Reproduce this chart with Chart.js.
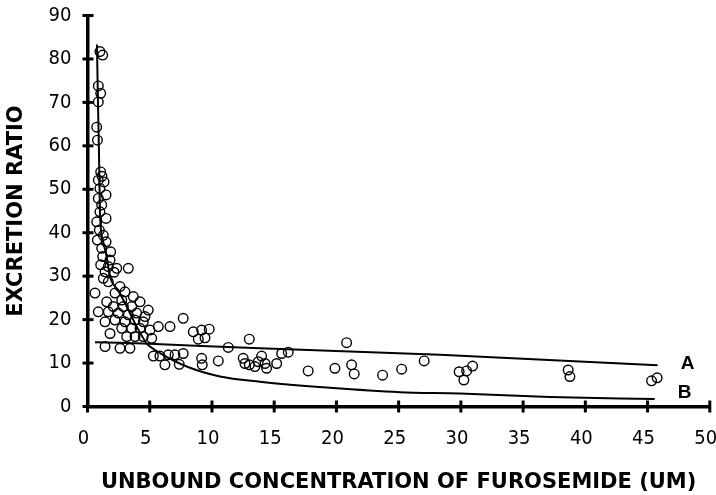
<!DOCTYPE html>
<html>
<head>
<meta charset="utf-8">
<script src="https://cdn.jsdelivr.net/npm/chart.js@4/dist/chart.umd.min.js"></script>
<style>
  html, body { margin: 0; padding: 0; background: #fff; }
  canvas { display: block; }
</style>
</head>
<body>
<canvas id="chart" width="716" height="495"></canvas>
<script>
    // observed excretion ratio vs unbound concentration
    const obsX = [1.00, 1.22, 0.87, 1.06, 0.87, 0.74, 0.80, 1.06, 1.16, 0.87,
        1.33, 1.00, 1.49, 0.87, 1.14, 1.00, 1.49, 0.74, 0.95, 1.27,
        0.79, 1.49, 1.14, 1.86, 1.22, 1.81, 1.06, 1.67, 2.35, 3.28,
        1.41, 1.27, 2.13, 1.67, 0.60, 2.61, 3.01, 2.21, 1.54, 2.75,
        3.68, 4.22, 2.07, 2.88, 3.55, 4.88, 0.87, 1.67, 2.47, 3.28,
        3.95, 4.62, 1.41, 2.21, 3.01, 3.82, 4.48, 2.75, 3.55, 4.22,
        5.02, 5.69, 6.63, 1.81, 3.15, 3.82, 4.48, 5.16, 1.41, 2.61,
        3.41, 7.69, 8.50, 9.17, 9.78, 8.90, 9.44, 13.00, 11.31, 5.29,
        5.82, 6.49, 7.03, 7.69, 6.22, 7.37, 9.17, 9.22, 10.51, 12.51,
        12.65, 13.00, 13.45, 13.99, 14.26, 13.72, 14.39, 15.20, 15.60, 16.13,
        20.82, 17.73, 19.88, 21.22, 21.43, 23.71, 25.24, 27.05, 29.86, 30.46,
        30.94, 30.24, 38.62, 38.76, 45.32, 45.77];
    const obsY = [81.7, 80.9, 73.8, 72.1, 70.1, 64.3, 61.3, 54.0, 53.0, 52.1,
        51.7, 50.2, 48.7, 47.9, 46.4, 44.8, 43.3, 42.5, 40.6, 39.4,
        38.3, 37.9, 36.4, 35.6, 34.5, 33.7, 32.6, 32.2, 31.8, 31.8,
        31.0, 29.5, 30.9, 28.7, 26.1, 27.6, 26.4, 26.1, 24.1, 24.5,
        25.3, 24.1, 23.0, 23.0, 23.0, 22.2, 21.8, 21.8, 21.5, 21.1,
        21.5, 20.7, 19.5, 19.9, 19.5, 19.9, 19.5, 18.0, 18.0, 18.0,
        17.6, 18.4, 18.4, 16.8, 16.1, 16.1, 16.1, 15.7, 13.8, 13.4,
        13.4, 20.3, 17.2, 17.6, 17.8, 15.5, 15.8, 15.5, 13.6, 11.6,
        11.6, 11.9, 11.9, 12.2, 9.6, 9.7, 11.1, 9.6, 10.5, 11.1,
        9.9, 9.6, 9.2, 11.6, 9.9, 10.3, 8.8, 9.9, 12.2, 12.5,
        14.7, 8.2, 8.8, 9.6, 7.5, 7.2, 8.6, 10.5, 8.0, 8.2,
        9.3, 6.1, 8.4, 6.9, 5.9, 6.6];

    // fitted curves A and B
    const curveAX = [0.60, 4.48, 13.86, 28.31, 45.81];
    const curveAY = [14.8, 14.5, 13.4, 11.9, 9.5];
    const curveBX = [0.76, 0.84, 0.92, 1.00, 1.24, 1.54, 1.81, 2.45, 3.15, 3.95,
        4.76, 5.02, 5.82, 7.97, 10.64, 13.86, 19.48, 25.10, 29.92, 37.15, 45.57];
    const curveBY = [83.3, 70.0, 59.0, 44.6, 38.2, 34.5, 29.9, 26.8, 23.0, 18.4,
        14.5, 13.8, 12.3, 9.2, 6.9, 5.7, 4.3, 3.3, 3.0, 2.2, 1.7];

    const xTitle = 'UNBOUND CONCENTRATION OF FUROSEMIDE (UM)';
    const yTitle = 'EXCRETION RATIO';

    const toPoints = (xs, ys) => xs.map((x, i) => ({ x, y: ys[i] }));

    const tickFont = { family: "'Liberation Sans Narrow', 'DejaVu Sans Condensed', sans-serif", size: 20 };
    const titleFont = { family: "'DejaVu Sans', sans-serif", size: 21, weight: 'bold' };

    // tick marks crossing the axis lines
    const crossTicks = {
        id: 'crossTicks',
        afterDraw(chart) {
            const { ctx, scales: { x, y } } = chart;
            ctx.save();
            ctx.strokeStyle = '#000';
            ctx.lineWidth = 3;
            x.ticks.forEach(t => {
                const px = x.getPixelForValue(t.value);
                ctx.beginPath();
                ctx.moveTo(px, y.bottom - 6);
                ctx.lineTo(px, y.bottom + 6);
                ctx.stroke();
            });
            y.ticks.forEach(t => {
                const py = y.getPixelForValue(t.value);
                ctx.beginPath();
                ctx.moveTo(x.left - 5, py);
                ctx.lineTo(x.left + 6, py);
                ctx.stroke();
            });
            ctx.restore();
        }
    };

    // "A" / "B" labels at the end of each curve
    const curveLabels = {
        id: 'curveLabels',
        afterDatasetsDraw(chart) {
            const ctx = chart.ctx;
            ctx.save();
            ctx.fillStyle = '#000';
            ctx.font = "bold 19px 'Liberation Sans', sans-serif";
            ctx.textBaseline = 'middle';
            chart.data.datasets.forEach((ds, i) => {
                if (!ds.showLine) return;
                const pts = chart.getDatasetMeta(i).data;
                const last = pts[pts.length - 1];
                ctx.fillText(ds.label, last.x + 23, last.y + ds.labelDy);
            });
            ctx.restore();
        }
    };

    new Chart(document.getElementById('chart'), {
        type: 'scatter',
        data: {
            datasets: [{
                label: 'obs',
                data: toPoints(obsX, obsY),
                pointRadius: 4.8,
                pointBorderWidth: 1.4,
                pointBorderColor: '#000',
                pointBackgroundColor: 'rgba(0,0,0,0)'
            }, {
                label: 'A',
                data: toPoints(curveAX, curveAY),
                showLine: true,
                borderColor: '#000',
                borderWidth: 2,
                pointRadius: 0,
                tension: 0.2,
                labelDy: -1
            }, {
                label: 'B',
                data: toPoints(curveBX, curveBY),
                showLine: true,
                borderColor: '#000',
                borderWidth: 2,
                pointRadius: 0,
                cubicInterpolationMode: 'monotone',
                labelDy: -6
            }]
        },
        options: {
            responsive: false,
            animation: false,
            layout: { padding: { top: 15.5, right: 4 } },
            plugins: {
                legend: { display: false },
                tooltip: { enabled: false }
            },
            scales: {
                x: {
                    type: 'linear',
                    min: 0,
                    max: 50,
                    grid: { display: false, drawTicks: false },
                    border: { display: true, color: '#000', width: 3.5 },
                    ticks: { stepSize: 5, color: '#000', font: tickFont, padding: 20, labelOffset: -4, maxRotation: 0 },
                    title: { display: true, text: xTitle, color: '#000', font: titleFont, padding: 0 },
                    afterFit(scale) {
                        scale.height = 88.5;
                        scale.paddingRight = 4;
                        scale.paddingLeft = 0;
                    }
                },
                y: {
                    min: 0,
                    max: 90,
                    grid: { display: false, drawTicks: false },
                    border: { display: true, color: '#000', width: 3.5 },
                    ticks: { stepSize: 10, color: '#000', font: tickFont, padding: 16 },
                    title: { display: true, text: yTitle, color: '#000', font: titleFont, padding: { top: 4, bottom: 0 } },
                    afterFit(scale) {
                        scale.width = 87.5;
                        scale.paddingTop = 0;
                        scale.paddingBottom = 0;
                    }
                }
            }
        },
        plugins: [crossTicks, curveLabels]
    });
</script>
</body>
</html>
